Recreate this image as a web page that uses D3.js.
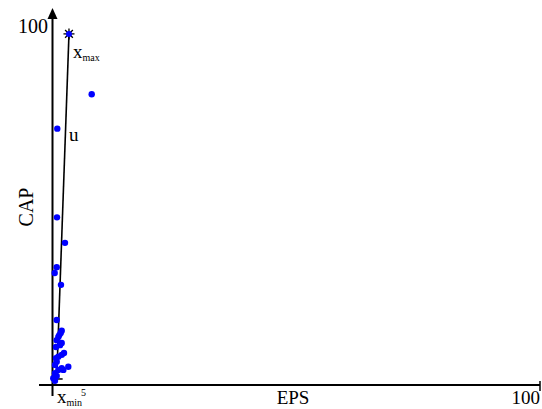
<!DOCTYPE html>
<html><head><meta charset="utf-8">
<script src="https://cdn.jsdelivr.net/npm/d3@7"></script>
<style>body{margin:0;background:#fff}svg{display:block}</style>
</head><body>
<svg id="c" width="542" height="409"></svg>
<script>
const epsValues = [8.04,0.98,0.92,2.56,0.86,0.45,1.74,0.86,1.89,1.68,1.39,1.19,0.86,1.89,1.54,0.72,2.36,1.89,1.19,0.72,0.86,0.51,3.24,1.89,2.22,1.19,0.51,0.86,0.16,0.51];
const capValues = [81.0,71.4,46.7,39.6,32.8,31.2,27.9,18.1,15.1,14.5,13.9,13.4,12.5,11.7,11.1,10.6,8.9,8.4,7.9,7.5,6.5,5.6,5.1,4.7,4.2,4.2,3.3,2.5,1.9,1.2];
const xMax = [3.38, 97.8];
const xMin = [0.85, 1.4];
const axisMax = 100;
const smallTick = 5;

const svg = d3.select("#c");
const x = d3.scaleLinear().domain([0, axisMax]).range([52.5, 540]);
const y = d3.scaleLinear().domain([0, axisMax]).range([385, 26]);
const serif = "'Liberation Serif','DejaVu Serif',serif";

// axes
svg.append("line").attr("x1", 39).attr("x2", x(axisMax)).attr("y1", y(0)).attr("y2", y(0))
  .attr("stroke", "#000").attr("stroke-width", 2);
svg.append("line").attr("x1", x(axisMax)).attr("x2", x(axisMax)).attr("y1", y(0) - 4).attr("y2", y(0) + 6)
  .attr("stroke", "#000").attr("stroke-width", 1.5);
svg.append("line").attr("x1", x(0)).attr("x2", x(0)).attr("y1", 396).attr("y2", 16)
  .attr("stroke", "#000").attr("stroke-width", 2);
svg.append("path").attr("d", `M${x(0)},8 L${x(0)-5},19 L${x(0)+5},19 Z`).attr("fill", "#000");

// tick labels
svg.append("text").attr("x", 48).attr("y", 33).attr("text-anchor", "end")
  .attr("font-family", serif).attr("font-size", 20).text(String(axisMax));
svg.append("text").attr("x", x(axisMax)).attr("y", 404).attr("text-anchor", "end")
  .attr("font-family", serif).attr("font-size", 19).text(String(axisMax));
svg.append("text").attr("x", x(smallTick) + 4).attr("y", 396).attr("text-anchor", "start")
  .attr("font-family", serif).attr("font-size", 10).text(String(smallTick));

// axis titles
svg.append("text").attr("x", 293).attr("y", 404).attr("text-anchor", "middle")
  .attr("font-family", serif).attr("font-size", 19).text("EPS");
svg.append("text").attr("transform", "translate(33,207) rotate(-90)").attr("text-anchor", "middle")
  .attr("font-family", serif).attr("font-size", 20).text("CAP");

// line u
svg.append("line").attr("x1", x(xMin[0])).attr("y1", y(xMin[1])).attr("x2", x(xMax[0])).attr("y2", y(xMax[1]))
  .attr("stroke", "#000").attr("stroke-width", 1.6);
svg.append("line").attr("x1", x(xMin[0]) - 5).attr("x2", x(xMin[0]) + 6).attr("y1", y(xMin[1]) - 1).attr("y2", y(xMin[1]) - 1)
  .attr("stroke", "#000").attr("stroke-width", 1.5);

// points
const pts = epsValues.map((e, i) => [e, capValues[i]]);
svg.append("g").selectAll("circle").data(pts).join("circle")
  .attr("cx", d => x(d[0])).attr("cy", d => y(d[1])).attr("r", 3.2).attr("fill", "#0000ff");

// x_max star
const sx = x(xMax[0]), sy = y(xMax[1]);
const sg = svg.append("g");
for (let k = 0; k < 4; k++) {
  const a = k * Math.PI / 4, r = 5.5;
  sg.append("line").attr("x1", sx - r * Math.cos(a)).attr("y1", sy - r * Math.sin(a))
    .attr("x2", sx + r * Math.cos(a)).attr("y2", sy + r * Math.sin(a))
    .attr("stroke", "#000").attr("stroke-width", 1.3);
}
sg.append("circle").attr("cx", sx).attr("cy", sy).attr("r", 3).attr("fill", "#0000ff");

// labels
const t1 = svg.append("text").attr("x", sx + 4).attr("y", 58).attr("font-family", serif).attr("font-size", 19);
t1.append("tspan").text("x");
t1.append("tspan").attr("font-size", 10).attr("dy", 3).text("max");
svg.append("text").attr("x", 69).attr("y", 141).attr("font-family", serif).attr("font-size", 19).text("u");
const t2 = svg.append("text").attr("x", 57).attr("y", 403).attr("font-family", serif).attr("font-size", 19);
t2.append("tspan").text("x");
t2.append("tspan").attr("font-size", 10).attr("dy", 2.5).text("min");
</script>
</body></html>
